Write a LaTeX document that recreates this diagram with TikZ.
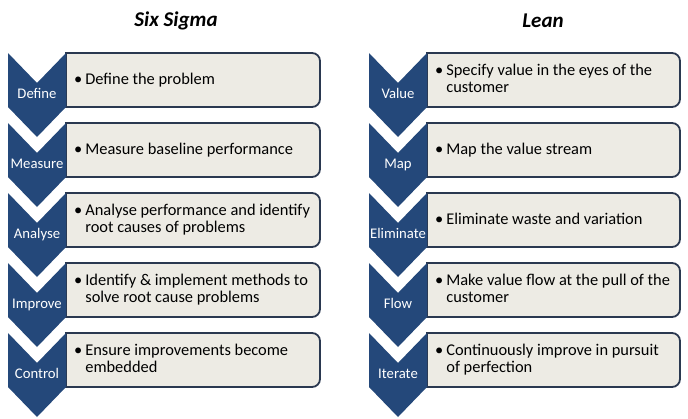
\documentclass[tikz,border=0pt]{standalone}
\usepackage{fontspec}
\setmainfont{Carlito}
\definecolor{chev}{RGB}{36,72,122}
\definecolor{boxfill}{RGB}{237,235,228}
\definecolor{boxline}{RGB}{42,56,80}
\newcommand\mkrow[6]{%
  \draw[boxst] (#1+58,#2) -- (#3-8,#2) arc[start angle=-90,end angle=0,radius=8]
     -- (#3,#2+46) arc[start angle=0,end angle=90,radius=8] -- (#1+58,#2+54) -- cycle;
  \fill[chevst] (#1,#2) -- (#1+29,#2+30) -- (#1+58,#2) -- (#1+58,#2+54)
     -- (#1+29,#2+84) -- (#1,#2+54) -- cycle;
  \node[lbl] (l#5) at (#1+29,#2+45) {#4};
  \node[txt] (t#5) at (#1+66,#2+28) {\begin{tabular}{@{}l@{\hspace{3pt}}l@{}}#6\end{tabular}};
}
\begin{document}
\begin{tikzpicture}[x=1pt,y=-1pt,
  boxst/.style={draw=boxline, fill=boxfill, line width=1.8pt},
  chevst/.style={fill=chev},
  lbl/.style={text=white, font=\fontsize{14.7}{16}\selectfont, inner sep=0pt, anchor=base},
  txt/.style={anchor=west, font=\fontsize{16.4}{17}\selectfont, inner sep=0pt},
  ttl/.style={font=\fontsize{21}{24}\selectfont\bfseries\itshape, inner sep=0pt}]
\useasboundingbox (0,0) rectangle (688,418);
\node[ttl] (tsix) at (176,21) {Six Sigma};
\node[ttl] (tlean) at (543,21) {Lean};
% Six Sigma column
\mkrow{8}{53}{320}{Define}{a1}{\textbullet & Define the problem}
\mkrow{8}{123}{320}{Measure}{a2}{\textbullet & Measure baseline performance}
\mkrow{8}{193}{320}{Analyse}{a3}{\textbullet & Analyse performance and identify\\ & root causes of problems}
\mkrow{8}{263}{320}{Improve}{a4}{\textbullet & Identify \& implement methods to\\ & solve root cause problems}
\mkrow{8}{333}{320}{Control}{a5}{\textbullet & Ensure improvements become\\ & embedded}
% Lean column
\mkrow{369}{53}{680}{Value}{b1}{\textbullet & Specify value in the eyes of the\\ & customer}
\mkrow{369}{123}{680}{Map}{b2}{\textbullet & Map the value stream}
\mkrow{369}{193}{680}{Eliminate}{b3}{\textbullet & Eliminate waste and variation}
\mkrow{369}{263}{680}{Flow}{b4}{\textbullet & Make value flow at the pull of the\\ & customer}
\mkrow{369}{333}{680}{Iterate}{b5}{\textbullet & Continuously improve in pursuit\\ & of perfection}
\end{tikzpicture}
\end{document}
